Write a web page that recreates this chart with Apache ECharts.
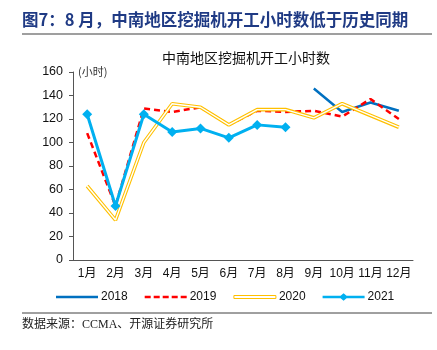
<!DOCTYPE html>
<html>
<head>
<meta charset="utf-8">
<script src="https://cdn.jsdelivr.net/npm/echarts@6/dist/echarts.min.js"></script>
<style>
html, body { margin: 0; padding: 0; background: #fff; }
#chart { width: 437px; height: 350px; }
</style>
</head>
<body>
<div id="chart"></div>
<script>
var months = ['1月', '2月', '3月', '4月', '5月', '6月', '7月', '8月', '9月', '10月', '11月', '12月'];
var hours2018 = [null, null, null, null, null, null, null, null, 146, 126, 134, 127];
var hours2019 = [108, 46, 129, 126, 130, 115, 127, 126, 127, 122, 137, 120];
var hours2020 = [63, 34, 100, 133, 130, 115, 128, 128, 121, 133, 123, 113];
var hours2021 = [124, 46, 124, 109, 112, 104, 115, 113];
var yTicks = [0, 20, 40, 60, 80, 100, 120, 140, 160];

var cjk = '"Noto Sans CJK SC", sans-serif';
var latin = '"Liberation Sans", Arial, "Noto Sans CJK SC", sans-serif';

var myChart = echarts.init(document.getElementById('chart'));
var option = {
    animation: false,
    textStyle: { fontFamily: latin },
    grid: { left: 73, right: 24, top: 72, bottom: 90 },
    graphic: [
        { type: 'text', left: 22, top: 11,
          style: { text: '图7：8 月，中南地区挖掘机开工小时数低于历史同期', fill: '#1F3A84',
                   font: 'bold 16.5px ' + cjk } },
        { type: 'line', shape: { x1: 22, y1: 34, x2: 432, y2: 34 },
          style: { stroke: '#404040', lineWidth: 1.2 } },
        { type: 'text', left: 78, top: 66,
          style: { text: '(小时)', fill: '#333', font: '11px ' + cjk } },
        { type: 'line', shape: { x1: 22, y1: 313, x2: 432, y2: 313 },
          style: { stroke: '#404040', lineWidth: 1 } },
        { type: 'text', left: 22, top: 319,
          style: { text: '数据来源：CCMA、开源证券研究所', fill: '#222',
                   font: '12px "Liberation Serif", "Noto Sans CJK SC", serif' } }
    ],
    title: {
        text: '中南地区挖掘机开工小时数',
        left: 241, textAlign: 'center', top: 46,
        textStyle: { fontSize: 14, fontWeight: 'normal', color: '#111', fontFamily: cjk }
    },
    legend: {
        left: 51, top: 286,
        itemWidth: 42, itemHeight: 10, itemGap: 17,
        textStyle: { fontSize: 12, color: '#111', fontFamily: latin, padding: [0, 0, 0, -2] },
        data: [
            { name: '2018', icon: 'path://M0,4 L42,4 L42,6.4 L0,6.4 Z' },
            { name: '2019', icon: 'path://M0,4 L6,4 L6,6.4 L0,6.4 Z M9,4 L15,4 L15,6.4 L9,6.4 Z M18,4 L24,4 L24,6.4 L18,6.4 Z M27,4 L33,4 L33,6.4 L27,6.4 Z M36,4 L42,4 L42,6.4 L36,6.4 Z' },
            { name: '2020', icon: 'path://M0,3.5 L42,3.5 L42,6.5 L0,6.5 Z',
              itemStyle: { color: '#fff', borderColor: '#FFC000', borderWidth: 1 } },
            { name: '2021', icon: 'path://M0,4 L18,4 L21,1.5 L24,4 L42,4 L42,6.4 L24,6.4 L21,8.9 L18,6.4 L0,6.4 Z' }
        ]
    },
    xAxis: {
        type: 'category',
        data: months,
        boundaryGap: true,
        axisLine: { lineStyle: { color: '#555', width: 1 } },
        axisTick: { length: 4, lineStyle: { color: '#555' } },
        axisLabel: { color: '#111', fontSize: 12, margin: 8, interval: 0, fontFamily: latin }
    },
    yAxis: {
        type: 'value',
        min: yTicks[0], max: yTicks[yTicks.length - 1], interval: 20,
        axisLine: { show: true, lineStyle: { color: '#555', width: 1 } },
        axisTick: { show: true, length: 4, lineStyle: { color: '#555' } },
        splitLine: { show: false },
        axisLabel: { color: '#111', fontSize: 12.5, margin: 10, fontFamily: latin }
    },
    series: [
        {
            name: '2018', type: 'line', data: hours2018, symbol: 'none',
            lineStyle: { color: '#0070C0', width: 2.5 }, itemStyle: { color: '#0070C0' }
        },
        {
            name: '2019', type: 'line', data: hours2019, symbol: 'none',
            lineStyle: { color: '#FF0000', width: 2.5, type: [6, 4] }, itemStyle: { color: '#FF0000' }
        },
        {
            name: '2020', type: 'line', data: hours2020, symbol: 'none',
            lineStyle: { color: '#FFC000', width: 3.6 }, itemStyle: { color: '#FFC000' }
        },
        {
            name: '2020 inner', type: 'line', data: hours2020, symbol: 'none',
            lineStyle: { color: '#fff', width: 1.4 }, silent: true
        },
        {
            name: '2021', type: 'line', data: hours2021,
            symbol: 'diamond', symbolSize: 10,
            lineStyle: { color: '#00B0F0', width: 3 }, itemStyle: { color: '#00B0F0' }
        }
    ]
};
myChart.setOption(option);
</script>
</body>
</html>
